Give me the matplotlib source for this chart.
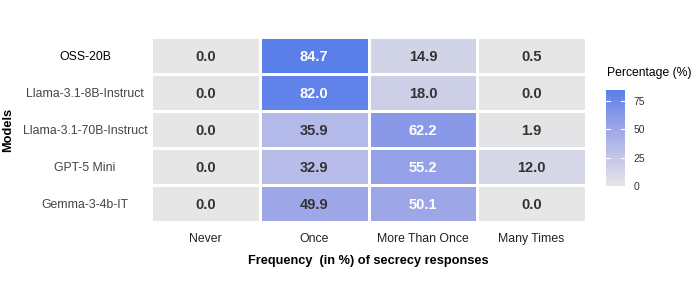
import numpy as np
import matplotlib
matplotlib.use('Agg')
import matplotlib.pyplot as plt
from matplotlib.colors import ListedColormap, to_rgb

plt.rcParams['font.family'] = ['Liberation Sans', 'DejaVu Sans']

models = ['OSS-20B', 'Llama-3.1-8B-Instruct', 'Llama-3.1-70B-Instruct', 'GPT-5 Mini', 'Gemma-3-4b-IT']
freqs = ['Never', 'Once', 'More Than Once', 'Many Times']
values = np.array([
    [0.0, 84.7, 14.9, 0.5],
    [0.0, 82.0, 18.0, 0.0],
    [0.0, 35.9, 62.2, 1.9],
    [0.0, 32.9, 55.2, 12.0],
    [0.0, 49.9, 50.1, 0.0],
])

low_col = '#e6e6e6'
high_col = '#5b7fe8'

# gradient interpolated in Lab space, like ggplot's scale_fill_gradient
WHITE = np.array([0.95047, 1.0, 1.08883])
M = np.array([[0.4124, 0.3576, 0.1805], [0.2126, 0.7152, 0.0722], [0.0193, 0.1192, 0.9505]])


def to_lab(c):
    c = np.array(to_rgb(c))
    lin = np.where(c <= 0.04045, c / 12.92, ((c + 0.055) / 1.055) ** 2.4)
    xyz = M @ lin / WHITE
    f = np.where(xyz > 0.008856, np.cbrt(xyz), 7.787 * xyz + 16 / 116)
    return np.array([116 * f[1] - 16, 500 * (f[0] - f[1]), 200 * (f[1] - f[2])])


def from_lab(lab):
    fy = (lab[0] + 16) / 116
    fx = fy + lab[1] / 500
    fz = fy - lab[2] / 200
    f = np.array([fx, fy, fz])
    xyz = np.where(f ** 3 > 0.008856, f ** 3, (f - 16 / 116) / 7.787) * WHITE
    lin = np.linalg.solve(M, xyz)
    c = np.where(lin <= 0.0031308, 12.92 * lin, 1.055 * np.clip(lin, 0, None) ** (1 / 2.4) - 0.055)
    return np.clip(c, 0, 1)


la, lb = to_lab(low_col), to_lab(high_col)
cmap = ListedColormap([from_lab(la + (lb - la) * t) for t in np.linspace(0, 1, 256)])
vmax = values.max()

fig = plt.figure(figsize=(6.98, 3.01), dpi=100)
ax = fig.add_axes([151 / 698, 1 - 222 / 301, 435 / 698, 185 / 301])

mesh = ax.pcolormesh(values, cmap=cmap, vmin=0, vmax=vmax, edgecolors='white', linewidth=2)
ax.set_xlim(0, len(freqs))
ax.set_ylim(len(models), 0)

for i in range(len(models)):
    for j in range(len(freqs)):
        v = values[i, j]
        ax.text(j + 0.5, i + 0.53, f'{v:.1f}', ha='center', va='center', fontsize=10.5,
                fontweight='bold', color='white' if v >= 50 else '#333333')

ax.set_xticks(np.arange(len(freqs)) + 0.5)
ax.set_xticklabels(freqs, fontsize=8.8, color='#222222')
ax.set_yticks(np.arange(len(models)) + 0.5)
ax.set_yticklabels(models, fontsize=8.8, ha='center', color='#444444')
ax.get_yticklabels()[0].set_color('black')
ax.tick_params(axis='y', length=0, pad=47.5)
ax.tick_params(axis='x', length=0, pad=8)
for s in ax.spines.values():
    s.set_visible(False)

ax.set_xlabel('Frequency  (in %) of secrecy responses', fontsize=9.2, fontweight='bold', labelpad=7)
fig.text(8 / 698, 1 - 130 / 301, 'Models', rotation=90, fontsize=9.2, fontweight='bold',
         ha='center', va='center')

cax = fig.add_axes([606 / 698, 1 - 186 / 301, 19 / 698, 96 / 301])
cb = fig.colorbar(mesh, cax=cax, ticks=[0, 25, 50, 75])
cb.outline.set_visible(False)
cax.tick_params(length=0, labelsize=7.5, colors='#333333', pad=6)
for t in [25, 50, 75]:
    cax.plot([0, 0.2], [t, t], color='white', lw=0.8)
    cax.plot([0.8, 1], [t, t], color='white', lw=0.8)
fig.text(607 / 698, 1 - 73 / 301, 'Percentage (%)', fontsize=8.7, ha='left', va='center')

fig.savefig('out.png', dpi=100)
